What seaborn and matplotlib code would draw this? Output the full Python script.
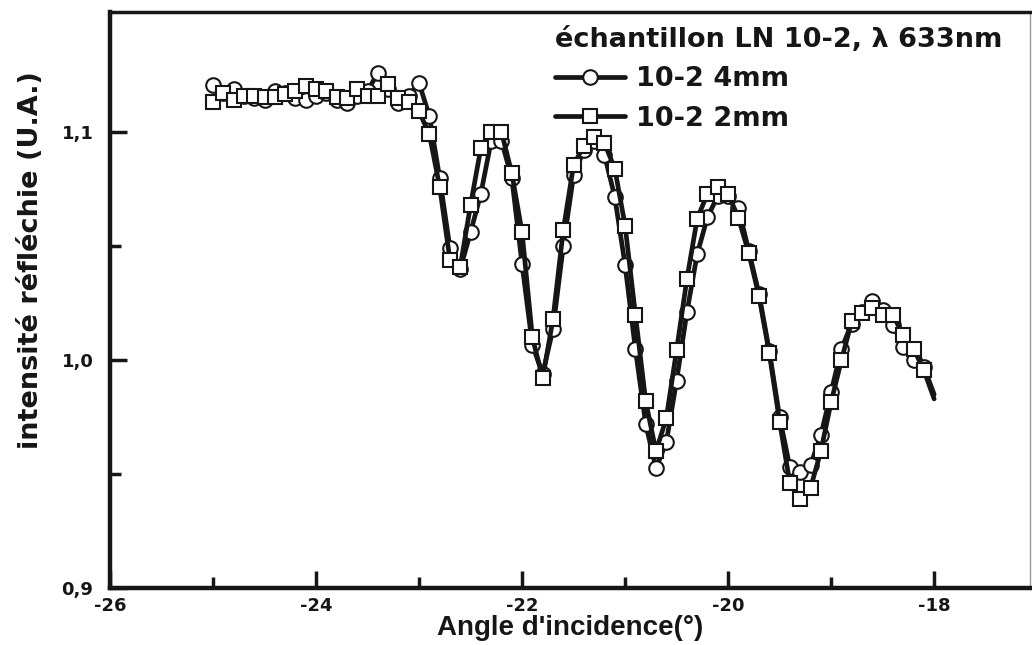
import matplotlib
matplotlib.use("Agg")
import matplotlib.pyplot as plt
import seaborn as sns
import numpy as np
import pandas as pd
from matplotlib.lines import Line2D
from matplotlib.ticker import FixedLocator, FixedFormatter
from matplotlib import font_manager

# Angles (pas de 0.1 deg) de -25 a -18
angles = np.round(np.linspace(-25.0, -18.0, 71), 1)

# 10-2 4mm (cercles)
intens_4mm = [1.1206, 1.117, 1.119, 1.116, 1.115, 1.114, 1.118, 1.117, 1.115, 1.114,
              1.116, 1.117, 1.114, 1.1127, 1.116, 1.118, 1.1259, 1.119, 1.1127, 1.116,
              1.1215, 1.107, 1.080, 1.049, 1.040, 1.056, 1.073, 1.096, 1.096, 1.080,
              1.042, 1.0066, 0.994, 1.0136, 1.050, 1.081, 1.092, 1.096, 1.090, 1.0715,
              1.0417, 1.0048, 0.972, 0.9526, 0.964, 0.991, 1.021, 1.0465, 1.0627, 1.072,
              1.072, 1.0667, 1.048, 1.029, 1.004, 0.975, 0.953, 0.951, 0.954, 0.967,
              0.986, 1.005, 1.016, 1.021, 1.026, 1.022, 1.0154, 1.0057, 1.000, 0.997,
              0.985]

# 10-2 2mm (carres)
intens_2mm = [1.113, 1.117, 1.114, 1.116, 1.116, 1.1155, 1.1155, 1.1165, 1.118, 1.120,
              1.119, 1.118, 1.1155, 1.115, 1.119, 1.116, 1.116, 1.121, 1.115, 1.113,
              1.109, 1.099, 1.076, 1.044, 1.041, 1.068, 1.093, 1.100, 1.100, 1.082,
              1.056, 1.010, 0.992, 1.018, 1.057, 1.0855, 1.094, 1.098, 1.095, 1.084,
              1.059, 1.020, 0.982, 0.960, 0.9745, 1.0044, 1.0355, 1.062, 1.073, 1.076,
              1.073, 1.0623, 1.047, 1.028, 1.003, 0.973, 0.946, 0.939, 0.944, 0.960,
              0.9816, 1.000, 1.017, 1.0206, 1.0228, 1.0197, 1.0197, 1.011, 1.005, 0.9956,
              0.983]

series_labels = ["10-2 4mm", "10-2 2mm"]
series_markers = ["o", "s"]
legend_title = "échantillon LN 10-2, λ 633nm"

x_ticks = [-26, -24, -22, -20, -18]
x_minor = [-25, -23, -21, -19]
y_ticks = [0.9, 1.0, 1.1]
y_ticklabels = ["0,9", "1,0", "1,1"]
y_minor = [0.95, 1.05]

sns.set_style("ticks")
plt.rcParams['font.family'] = ['DejaVu Sans']
plt.rcParams['font.weight'] = 'bold'
plt.rcParams['axes.unicode_minus'] = False

# police etroite pour le titre de l'axe x si disponible
installed = {f.name for f in font_manager.fontManager.ttflist}
if "Liberation Sans Narrow" in installed:
    xlabel_font = dict(family="Liberation Sans Narrow", size=22)
else:
    xlabel_font = dict(family="Liberation Sans", size=20)

ink = "#161616"

fig, ax = plt.subplots(figsize=(10.32, 6.45), dpi=100)
fig.subplots_adjust(left=0.1066, right=0.998, top=0.981, bottom=0.088)

for vals, marker in zip([intens_4mm, intens_2mm], series_markers):
    df = pd.DataFrame({"angle": angles, "intensite": vals})
    sns.lineplot(data=df, x="angle", y="intensite", ax=ax, color=ink, lw=3.4,
                 marker=marker, ms=10.5, mfc="white", mec=ink, mew=1.5,
                 markevery=list(range(len(vals) - 1)), legend=False)

ax.set_xlim(-26, -17.07)
ax.set_ylim(0.9, 1.1525)

ax.xaxis.set_major_locator(FixedLocator(x_ticks))
ax.xaxis.set_minor_locator(FixedLocator(x_minor))
ax.yaxis.set_major_locator(FixedLocator(y_ticks))
ax.yaxis.set_major_formatter(FixedFormatter(y_ticklabels))
ax.yaxis.set_minor_locator(FixedLocator(y_minor))

ax.tick_params(which="major", direction="in", length=12, width=2.5, color=ink,
               labelsize=13, labelcolor=ink)
ax.tick_params(which="minor", direction="in", length=8, width=2.5, color=ink)
ax.tick_params(axis="x", which="major", pad=6)
ax.tick_params(axis="y", which="major", pad=12)
for lab in ax.get_xticklabels() + ax.get_yticklabels():
    lab.set_fontweight("bold")

for side in ["left", "bottom"]:
    ax.spines[side].set_linewidth(3.2)
    ax.spines[side].set_color(ink)
ax.spines["top"].set_linewidth(2.5)
ax.spines["top"].set_color(ink)
ax.spines["right"].set_linewidth(1.0)
ax.spines["right"].set_color("#9a9a9a")

ax.set_xlabel("Angle d'incidence(°)", fontweight="bold", color=ink, labelpad=0, **xlabel_font)
ax.set_ylabel("intensité réfléchie (U.A.)", fontsize=19.5, fontweight="bold", color=ink)
ax.yaxis.set_label_coords(-0.072, 0.569)

handles = [Line2D([], [], color=ink, lw=3.4, marker=m, ms=10.5, mfc="white", mec=ink, mew=1.5)
           for m in series_markers]
leg = ax.legend(handles, series_labels, title=legend_title, loc="upper left",
                bbox_to_anchor=(0.457, 1.017), frameon=False, fontsize=19.5,
                title_fontproperties={"size": 19.5, "weight": "bold"},
                handlelength=2.6, handletextpad=0.4, labelspacing=0.5, numpoints=1)
leg._legend_box.align = "left"
for t in leg.get_texts():
    t.set_fontweight("bold")
    t.set_color(ink)
leg.get_title().set_color(ink)

plt.savefig("out.png", dpi=100)
